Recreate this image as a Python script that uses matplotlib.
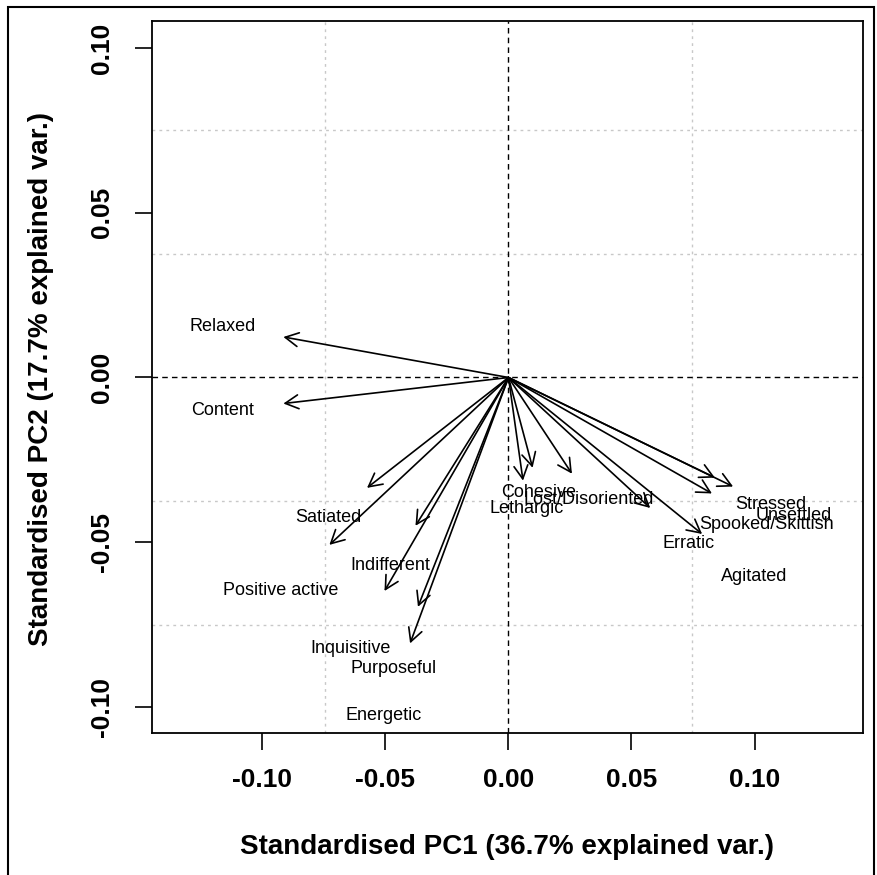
import matplotlib
matplotlib.use("Agg")
import matplotlib.pyplot as plt
from matplotlib.patches import Rectangle

plt.rcParams['font.family'] = ['Liberation Sans', 'DejaVu Sans']

# loadings on the first two standardised PCs
variables = ["Relaxed", "Content", "Satiated", "Positive active", "Indifferent",
             "Inquisitive", "Purposeful", "Energetic", "Cohesive", "Lethargic",
             "Lost/Disoriented", "Erratic", "Agitated", "Stressed", "Unsettled",
             "Spooked/Skittish"]
pc1 = [-0.0915, -0.0915, -0.0575, -0.0728, -0.0378, -0.0504, -0.0368, -0.0400,
       0.0098, 0.0059, 0.0258, 0.0576, 0.0787, 0.0839, 0.0913, 0.0827]
pc2 = [0.0123, -0.0079, -0.0335, -0.0508, -0.0450, -0.0648, -0.0696, -0.0807,
       -0.0274, -0.0313, -0.0292, -0.0396, -0.0475, -0.0304, -0.0331, -0.0352]

label_scale = 1.27
xticks = [-0.10, -0.05, 0.00, 0.05, 0.10]
yticks = [-0.10, -0.05, 0.00, 0.05, 0.10]
xgrid = [-0.0746, 0.0746]
ygrid = [-0.0751, -0.0375, 0.0376, 0.0751]

fig = plt.figure(figsize=(8.78, 8.75), dpi=100)
ax = fig.add_axes([152 / 878, 1 - 733 / 875, 711 / 878, 712 / 875])

ax.set_xlim(-0.1449, 0.1441)
ax.set_ylim(-0.1079, 0.1082)

for gx in xgrid:
    ax.axvline(gx, color="#c8c8c8", lw=1.0, ls=(0, (2, 3)), zorder=0)
for gy in ygrid:
    ax.axhline(gy, color="#c8c8c8", lw=1.0, ls=(0, (2, 3)), zorder=0)
ax.axvline(0, color="black", lw=1.0, ls=(0, (4, 3)), zorder=1)
ax.axhline(0, color="black", lw=1.0, ls=(0, (4, 3)), zorder=1)

for name, x, y in zip(variables, pc1, pc2):
    ax.annotate("", xy=(x, y), xytext=(0, 0),
                arrowprops=dict(arrowstyle="->,head_length=0.95,head_width=0.5",
                                lw=1.2, color="black", shrinkA=0, shrinkB=0,
                                mutation_scale=10))
    ax.text(x * label_scale, y * label_scale, name, ha="center", va="center",
            fontsize=13, color="black")

ax.set_xticks(xticks)
ax.set_yticks(yticks)
ax.set_xticklabels([f"{t:.2f}" for t in xticks], fontsize=19, fontweight="bold")
ax.set_yticklabels([f"{t:.2f}" for t in yticks], fontsize=19, fontweight="bold",
                   rotation=90, va="center")
ax.tick_params(axis="both", direction="out", length=12, width=1.2)
ax.tick_params(axis="x", pad=13)
ax.tick_params(axis="y", pad=15)
for s in ax.spines.values():
    s.set_linewidth(1.3)

fig.text(507.5 / 878, 1 - 847 / 875, "Standardised PC1 (36.7% explained var.)",
         ha="center", va="center", fontsize=20, fontweight="bold")
fig.text(41 / 878, 1 - 379 / 875, "Standardised PC2 (17.7% explained var.)",
         ha="center", va="center", rotation=90, fontsize=20, fontweight="bold")

# outer frame round the whole figure
fig.patches.append(Rectangle((8 / 878, -0.01), 866 / 878, 1.002, transform=fig.transFigure,
                             fill=False, edgecolor="black", lw=1.5))

fig.savefig("out.png", dpi=100)
